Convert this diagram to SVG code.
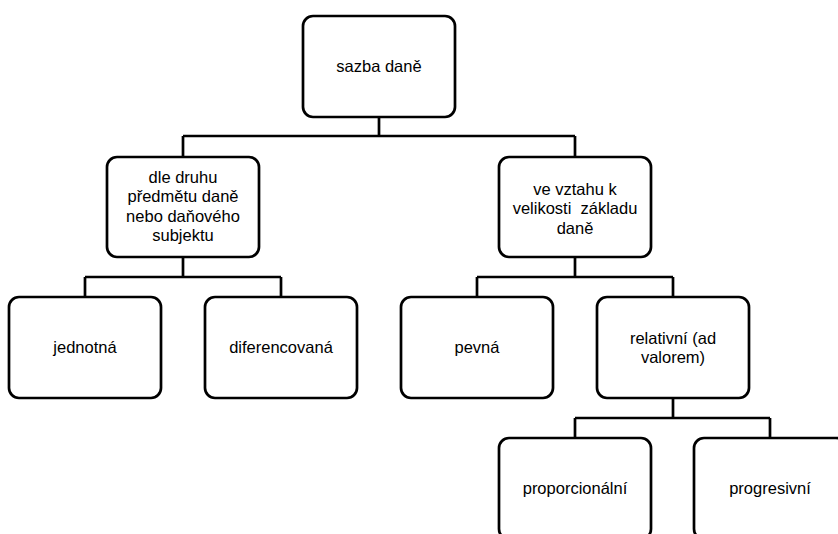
<svg xmlns="http://www.w3.org/2000/svg" width="838" height="534" viewBox="0 0 838 534">
<style>
.box{fill:#fff;stroke:#000;stroke-width:2.7}
.lbl{font-family:"Liberation Sans",Arial,sans-serif;font-size:16.5px;fill:#000;text-anchor:middle;white-space:pre}
.conn{fill:none;stroke:#000;stroke-width:2.7}
</style>
<rect width="838" height="534" fill="#fff"/>
<g id="connectors">
<path class="conn" d="M379 117V136M183 136H575M183 136V157M575 136V157"/>
<path class="conn" d="M183 257V277M85 277H281M85 277V297M281 277V297"/>
<path class="conn" d="M575 257V277M477 277H673M477 277V297M673 277V297"/>
<path class="conn" d="M673 398V418M575 418H770M575 418V438M770 418V438"/>
</g>
<g id="n1"><rect class="box" x="303" y="16" width="152" height="101" rx="10"/><text class="lbl" x="379" y="72">sazba daně</text></g>
<g id="n2"><rect class="box" x="107" y="157" width="152" height="100" rx="10"/><text class="lbl" x="183" y="183">dle druhu</text><text class="lbl" x="183" y="202.3">předmětu daně</text><text class="lbl" x="183" y="221.6">nebo daňového</text><text class="lbl" x="183" y="241">subjektu</text></g>
<g id="n3"><rect class="box" x="499" y="157" width="152" height="100" rx="10"/><text class="lbl" x="575" y="195">ve vztahu k</text><text class="lbl" x="575" y="214.3" xml:space="preserve">velikosti  základu</text><text class="lbl" x="575" y="233.5">daně</text></g>
<g id="n4"><rect class="box" x="9" y="297" width="152" height="101" rx="10"/><text class="lbl" x="85" y="353">jednotná</text></g>
<g id="n5"><rect class="box" x="205" y="297" width="152" height="101" rx="10"/><text class="lbl" x="281" y="353">diferencovaná</text></g>
<g id="n6"><rect class="box" x="401" y="297" width="152" height="101" rx="10"/><text class="lbl" x="477" y="353">pevná</text></g>
<g id="n7"><rect class="box" x="597" y="297" width="152" height="101" rx="10"/><text class="lbl" x="673" y="344">relativní (ad</text><text class="lbl" x="673" y="363.3">valorem)</text></g>
<g id="n8"><rect class="box" x="499" y="438" width="152" height="101" rx="10"/><text class="lbl" x="575" y="494">proporcionální</text></g>
<g id="n9"><rect class="box" x="694" y="438" width="152" height="101" rx="10"/><text class="lbl" x="770" y="494">progresivní</text></g>
</svg>
